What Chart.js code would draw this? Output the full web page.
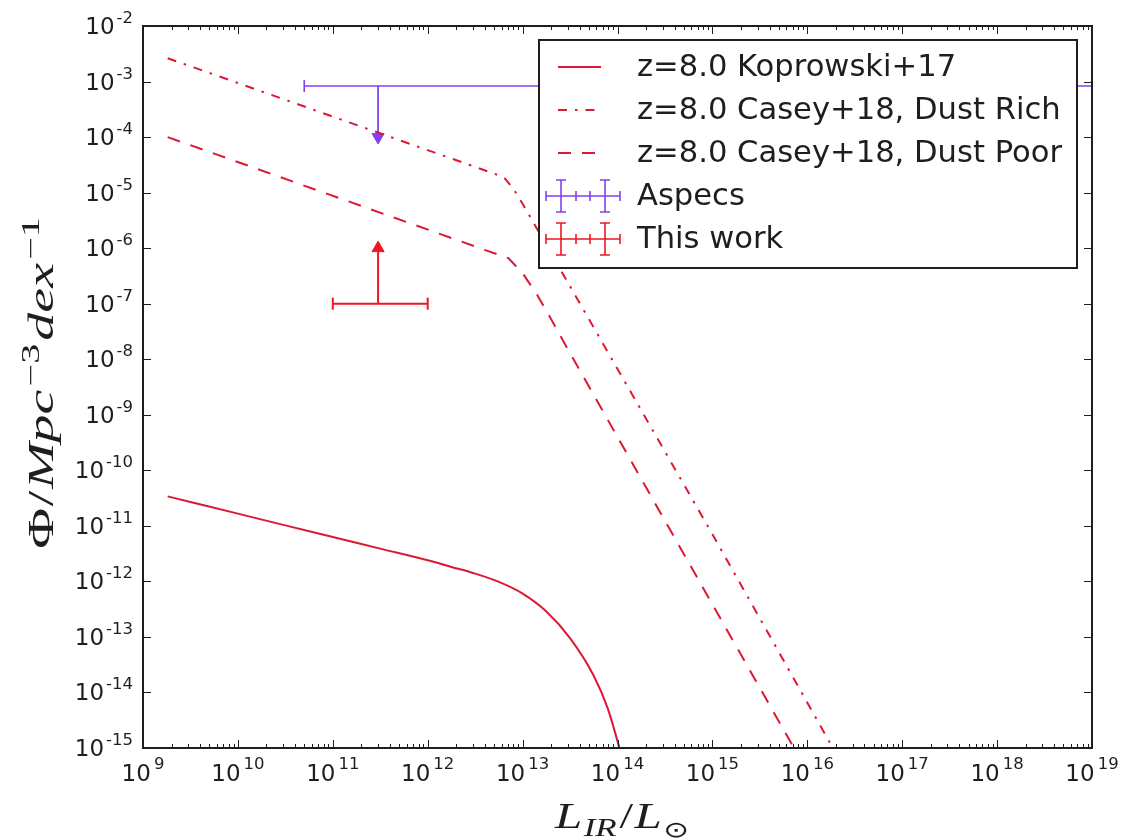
<!DOCTYPE html>
<html><head><meta charset="utf-8">
<script src="https://cdn.jsdelivr.net/npm/chart.js@4.4.1/dist/chart.umd.min.js"></script>
<style>html,body{margin:0;padding:0;background:#fff;}canvas{display:block;}</style>
</head><body>
<canvas id="c" width="1122" height="838"></canvas>
<script>
// ---------------- data ----------------
const koprowskiL   = [1.82e9, 3.16e9, 1e10, 3.16e10, 1e11, 3.16e11, 1e12, 1.78e12, 3.16e12, 5.62e12, 1e13, 1.78e13, 3.16e13, 5.62e13, 7.94e13, 1.05e14];
const koprowskiPhi = [3.39e-11, 2.69e-11, 1.66e-11, 1.02e-11, 6.31e-12, 3.89e-12, 2.40e-12, 1.82e-12, 1.38e-12, 9.77e-13, 6.03e-13, 2.88e-13, 9.55e-14, 2.0e-14, 5.01e-15, 1e-15];

const richL   = [1.82e9, 6.31e12, 7.94e12, 1e13, 1e15, 1.86e16];
const richPhi = [2.63e-3, 1.91e-5, 1.20e-5, 6.31e-6, 7.08e-12, 1e-15];

const poorL   = [1.82e9, 3.98e12, 7.08e12, 1e13, 1.41e13, 2.0e13, 2.82e13, 3.98e14, 7.24e15];
const poorPhi = [1e-4, 9.33e-7, 6.61e-7, 3.55e-7, 1.48e-7, 5.25e-8, 1.82e-8, 6.17e-12, 1e-15];

// error bars: centre, x-range, limit arrow end
const aspecsL = [3e11], aspecsPhi = [8.3e-4], aspecsLLo = [5e10], aspecsLHi = [1e20], aspecsLimit = [1e-4];
const workL = [3e11], workPhi = [1e-7], workLLo = [1e11], workLHi = [1e12], workLimit = [1e-6];

const legendLabels = ['z=8.0 Koprowski+17', 'z=8.0 Casey+18, Dust Rich', 'z=8.0 Casey+18, Dust Poor', 'Aspecs', 'This work'];
const xTickExps = [9,10,11,12,13,14,15,16,17,18,19];
const yTickExps = [-2,-3,-4,-5,-6,-7,-8,-9,-10,-11,-12,-13,-14,-15];

// ---------------- styles ----------------
const lineRed = 'rgb(221,24,52)';
const barRed = 'rgb(238,22,38)';
const purple = 'rgb(128,66,240)';
const ink = '#1e1e1e';
const sans = '"DejaVu Sans", sans-serif';
const serif = '"Liberation Serif", "DejaVu Serif", serif';
const dashDot = [9, 8, 2.5, 8];
const dashed = [13, 11];

const pts = (xs, ys) => xs.map((v, i) => ({x: v, y: ys[i]}));

function drawRuns(ctx, runs, x, y, k) {
  let w = 0;
  for (const r of runs) { ctx.font = r.f; r.w = ctx.measureText(r.t).width; w += r.w + (r.gap || 0); }
  ctx.save();
  ctx.translate(x, y); ctx.scale(k, 1);
  let cx = -w / 2;
  for (const r of runs) { ctx.font = r.f; ctx.fillText(r.t, cx, (r.dy || 0)); cx += r.w + (r.gap || 0); }
  ctx.restore();
}

const axesPlugin = {
  id: 'axesPlugin',
  afterDatasetsDraw(chart) {
    const {ctx, chartArea: a, scales: {x, y}} = chart;
    ctx.save();
    ctx.strokeStyle = ink; ctx.lineWidth = 1;
    ctx.beginPath();
    for (const e of xTickExps) {
      const px = Math.round(x.getPixelForValue(Math.pow(10, e))) + 0.5;
      ctx.moveTo(px, a.bottom); ctx.lineTo(px, a.bottom - 8);
      ctx.moveTo(px, a.top); ctx.lineTo(px, a.top + 8);
      if (e < 19) for (let m = 2; m <= 9; m++) {
        const q = Math.round(x.getPixelForValue(m * Math.pow(10, e))) + 0.5;
        ctx.moveTo(q, a.bottom); ctx.lineTo(q, a.bottom - 4);
        ctx.moveTo(q, a.top); ctx.lineTo(q, a.top + 4);
      }
    }
    for (const e of yTickExps) {
      const py = Math.round(y.getPixelForValue(Math.pow(10, e))) + 0.5;
      ctx.moveTo(a.left, py); ctx.lineTo(a.left + 8, py);
      ctx.moveTo(a.right, py); ctx.lineTo(a.right - 8, py);
    }
    ctx.stroke();
    ctx.lineWidth = 2;
    ctx.strokeRect(a.left, a.top, a.right - a.left, a.bottom - a.top);

    // tick labels
    ctx.fillStyle = ink; ctx.textBaseline = 'alphabetic'; ctx.textAlign = 'left';
    const big = '23px ' + sans, small = '16.5px ' + sans;
    for (const e of yTickExps) {
      const py = y.getPixelForValue(Math.pow(10, e));
      const sup = String(e);
      ctx.font = small; const ws = ctx.measureText(sup).width;
      ctx.font = big; const wb = ctx.measureText('10').width;
      const right = a.left - 10;
      ctx.font = big; ctx.fillText('10', right - ws - 2 - wb, py + 8);
      ctx.font = small; ctx.fillText(sup, right - ws, py - 3);
    }
    for (const e of xTickExps) {
      const px = x.getPixelForValue(Math.pow(10, e));
      const sup = String(e);
      ctx.font = small; const ws = ctx.measureText(sup).width;
      ctx.font = big; const wb = ctx.measureText('10').width;
      const start = px - (wb + 3 + ws) / 2;
      ctx.font = big; ctx.fillText('10', start, a.bottom + 33);
      ctx.font = small; ctx.fillText(sup, start + wb + 3, a.bottom + 21);
    }

    // axis titles (math style)
    const S = 35;
    const it = 'italic ' + S + 'px ' + serif, up = S + 'px ' + serif;
    const itS = 'italic ' + Math.round(S * 0.7) + 'px ' + serif, upS = Math.round(S * 0.7) + 'px ' + serif;
    drawRuns(ctx, [
      {t: 'L', f: it, gap: 1}, {t: 'IR', f: itS, dy: 8, gap: 2}, {t: '/', f: up, gap: 1}, {t: 'L', f: it, gap: 1},
      {t: '\u2299', f: Math.round(S * 0.62) + 'px "DejaVu Sans"', dy: 9}
    ], 622, a.bottom + 80, 1.4);
    ctx.save();
    ctx.translate(53, 383);
    ctx.rotate(-Math.PI / 2);
    drawRuns(ctx, [
      {t: '\u03A6', f: up, gap: 1}, {t: '/', f: up, gap: 1}, {t: 'Mpc', f: it, gap: 2},
      {t: '\u22123', f: upS, dy: -14, gap: 2}, {t: 'dex', f: it, gap: 2}, {t: '\u22121', f: upS, dy: -14}
    ], 0, 0, 1.6);
    ctx.restore();
    ctx.restore();
  },
  afterDraw(chart) {
    const {ctx} = chart;
    ctx.save();
    const L = 539, T = 40, R = 1077, B = 268;
    ctx.fillStyle = '#fff'; ctx.fillRect(L, T, R - L, B - T);
    ctx.strokeStyle = ink; ctx.lineWidth = 2; ctx.strokeRect(L, T, R - L, B - T);
    const rows = [67, 110, 153, 196, 239];
    ctx.lineWidth = 2;
    const styles = [[], dashDot, dashed];
    for (let i = 0; i < 3; i++) {
      ctx.strokeStyle = lineRed; ctx.setLineDash(styles[i]);
      ctx.beginPath(); ctx.moveTo(558, rows[i]); ctx.lineTo(601, rows[i]); ctx.stroke();
    }
    ctx.setLineDash([]);
    const ebar = (col, yy) => {
      ctx.strokeStyle = col; ctx.lineWidth = 1.6; ctx.beginPath();
      ctx.moveTo(546, yy); ctx.lineTo(620, yy);
      for (const cx of [546, 576, 590, 620]) { ctx.moveTo(cx, yy - 5); ctx.lineTo(cx, yy + 5); }
      for (const cx of [561, 605]) {
        ctx.moveTo(cx, yy - 16); ctx.lineTo(cx, yy + 16);
        ctx.moveTo(cx - 5, yy - 16); ctx.lineTo(cx + 5, yy - 16);
        ctx.moveTo(cx - 5, yy + 16); ctx.lineTo(cx + 5, yy + 16);
      }
      ctx.stroke();
    };
    ebar(purple, rows[3]);
    ebar(barRed, rows[4]);
    ctx.fillStyle = ink; ctx.font = '30.6px ' + sans; ctx.textBaseline = 'middle'; ctx.textAlign = 'left';
    legendLabels.forEach((t, i) => ctx.fillText(t, 637, rows[i] + 1));
    ctx.restore();
  }
};

const curve = (d, color, dash, smooth) => ({
  data: d, showLine: true, borderColor: color, borderWidth: 2, borderDash: dash,
  pointRadius: 0, fill: false, cubicInterpolationMode: smooth ? 'monotone' : 'default', tension: 0
});

new Chart(document.getElementById('c'), {
  type: 'scatter',
  data: {
    datasets: [
      curve(pts(koprowskiL, koprowskiPhi), lineRed, [], true),
      curve(pts(richL, richPhi), lineRed, dashDot, false),
      curve(pts(poorL, poorPhi), lineRed, dashed, false),
      { data: [{x: aspecsLLo[0], y: aspecsPhi[0]}, {x: aspecsLHi[0], y: aspecsPhi[0]}], showLine: true,
        borderColor: purple, borderWidth: 1.6, pointStyle: 'line', pointRotation: 90, pointRadius: 6,
        pointBorderColor: purple, pointBorderWidth: 1.6 },
      { data: [{x: aspecsL[0], y: aspecsPhi[0]}, {x: aspecsL[0], y: aspecsLimit[0]}], showLine: true,
        borderColor: purple, borderWidth: 1.8, pointStyle: 'triangle', pointRotation: 180, pointRadius: [0, 7],
        pointBackgroundColor: purple, pointBorderColor: purple, pointBorderWidth: 1 },
      { data: [{x: workLLo[0], y: workPhi[0]}, {x: workLHi[0], y: workPhi[0]}], showLine: true,
        borderColor: barRed, borderWidth: 2, pointStyle: 'line', pointRotation: 90, pointRadius: 6,
        pointBorderColor: barRed, pointBorderWidth: 2 },
      { data: [{x: workL[0], y: workPhi[0]}, {x: workL[0], y: workLimit[0]}], showLine: true,
        borderColor: barRed, borderWidth: 2, pointStyle: 'triangle', pointRotation: 0, pointRadius: [0, 7],
        pointBackgroundColor: barRed, pointBorderColor: barRed, pointBorderWidth: 1 }
    ]
  },
  options: {
    responsive: false, animation: false, events: [],
    layout: {padding: {left: 143, top: 26, right: 30, bottom: 90}},
    plugins: {legend: {display: false}, tooltip: {enabled: false}},
    scales: {
      x: {type: 'logarithmic', min: 1e9, max: 1e19, display: false},
      y: {type: 'logarithmic', min: 1e-15, max: 1e-2, display: false}
    }
  },
  plugins: [axesPlugin]
});
</script>
</body></html>
